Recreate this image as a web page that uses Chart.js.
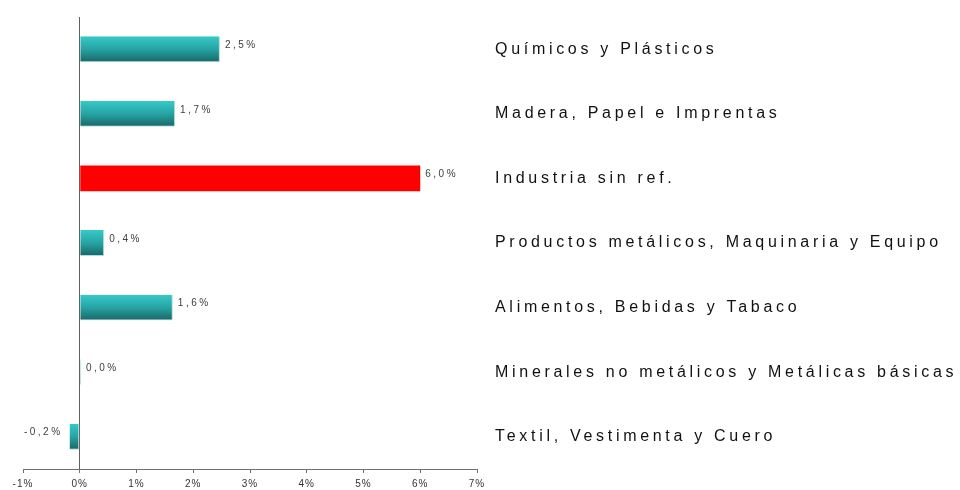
<!DOCTYPE html>
<html>
<head>
<meta charset="utf-8">
<script src="https://cdn.jsdelivr.net/npm/chart.js@4.4.1/dist/chart.umd.min.js"></script>
<style>
  html, body { margin: 0; padding: 0; background: #fff; }
  #wrap { width: 960px; height: 490px; }
</style>
</head>
<body>
<div id="wrap"><canvas id="myChart" width="960" height="490"></canvas></div>
<script>
// data
const categories = [
    "Químicos y Plásticos",
    "Madera, Papel e Imprentas",
    "Industria sin ref.",
    "Productos metálicos, Maquinaria y Equipo",
    "Alimentos, Bebidas y Tabaco",
    "Minerales no metálicos y Metálicas básicas",
    "Textil, Vestimenta y Cuero"
];
const values         = [2.47, 1.68, 6.0, 0.43, 1.64, 0.02, -0.18];
const highlightIndex = 2;
const tickValues     = [-1, 0, 1, 2, 3, 4, 5, 6, 7];

const FONT = '"Liberation Sans", Arial, sans-serif';

const fmt = v => v.toFixed(1).replace('.', ',') + '%';

function barFill(c) {
    if (c.dataIndex === highlightIndex) return '#ff0000';
    const chart = c.chart;
    const y     = chart.scales.y;
    if (!chart.chartArea || !y) return '#2aa6a6';
    const mid  = y.getPixelForValue(c.dataIndex);
    const half = (y.getPixelForValue(1) - y.getPixelForValue(0)) * 0.4 / 2;
    const g    = chart.ctx.createLinearGradient(0, mid - half, 0, mid + half);
    g.addColorStop(0, '#36c9c9');
    g.addColorStop(0.5, '#27a3a3');
    g.addColorStop(1, '#196666');
    return g;
}

const spacingPlugin = {
    id: 'spacing',
    beforeDraw(chart) {
        chart.ctx.letterSpacing = '1px';
    }
};

const valueLabels = {
    id: 'valueLabels',
    afterDatasetsDraw(chart) {
        const ctx  = chart.ctx;
        const meta = chart.getDatasetMeta(0);
        ctx.save();
        ctx.letterSpacing = '2.5px';
        ctx.font          = '10px ' + FONT;
        ctx.fillStyle     = '#404040';
        ctx.textBaseline  = 'middle';
        meta.data.forEach((bar, i) => {
            const v = values[i];
            if (v < 0) {
                ctx.textAlign = 'right';
                ctx.fillText(fmt(v), bar.x - 7, bar.y - 4);
            } else {
                ctx.textAlign = 'left';
                ctx.fillText(fmt(v), bar.x + 5, bar.y - 4);
            }
        });
        ctx.restore();
    }
};

const categoryLabels = {
    id: 'categoryLabels',
    afterDraw(chart) {
        const ctx = chart.ctx;
        const y   = chart.scales.y;
        ctx.save();
        ctx.letterSpacing = '3.7px';
        ctx.font          = '16px ' + FONT;
        ctx.fillStyle     = '#111';
        ctx.textAlign     = 'left';
        ctx.textBaseline  = 'middle';
        categories.forEach((name, i) => {
            ctx.fillText(name, chart.chartArea.right + 18, y.getPixelForValue(i));
        });
        ctx.restore();
    }
};

new Chart(document.getElementById('myChart').getContext('2d'), {
    type: 'bar',
    data: {
        labels  : categories,
        datasets: [{
            data              : values,
            backgroundColor   : barFill,
            borderColor       : '#b3dddd',
            borderWidth       : c => c.dataIndex === highlightIndex ? 0 : { top: 0, left: 0, right: 1, bottom: 1 },
            borderSkipped     : false,
            barPercentage     : 0.4,
            categoryPercentage: 1
        }]
    },
    options: {
        indexAxis : 'y',
        responsive: false,
        animation : false,
        layout    : { padding: { left: 23, right: 483, top: 17, bottom: -5 } },
        plugins   : { legend: { display: false }, tooltip: { enabled: false } },
        scales    : {
            x: {
                min: -1,
                max: 7,
                afterBuildTicks: s => { s.ticks = tickValues.map(v => ({ value: v })); },
                ticks : { callback: v => v + '%', font: { family: FONT, size: 10 }, color: '#333', padding: 5, maxRotation: 0, autoSkip: false },
                grid  : { color: c => (c.tick && c.tick.value === 0) ? '#606060' : 'rgba(0,0,0,0)', tickColor: '#707070', tickLength: 4, lineWidth: 1 },
                border: { color: '#707070', width: 1 }
            },
            y: { display: false }
        }
    },
    plugins: [spacingPlugin, valueLabels, categoryLabels]
});
</script>
</body>
</html>
